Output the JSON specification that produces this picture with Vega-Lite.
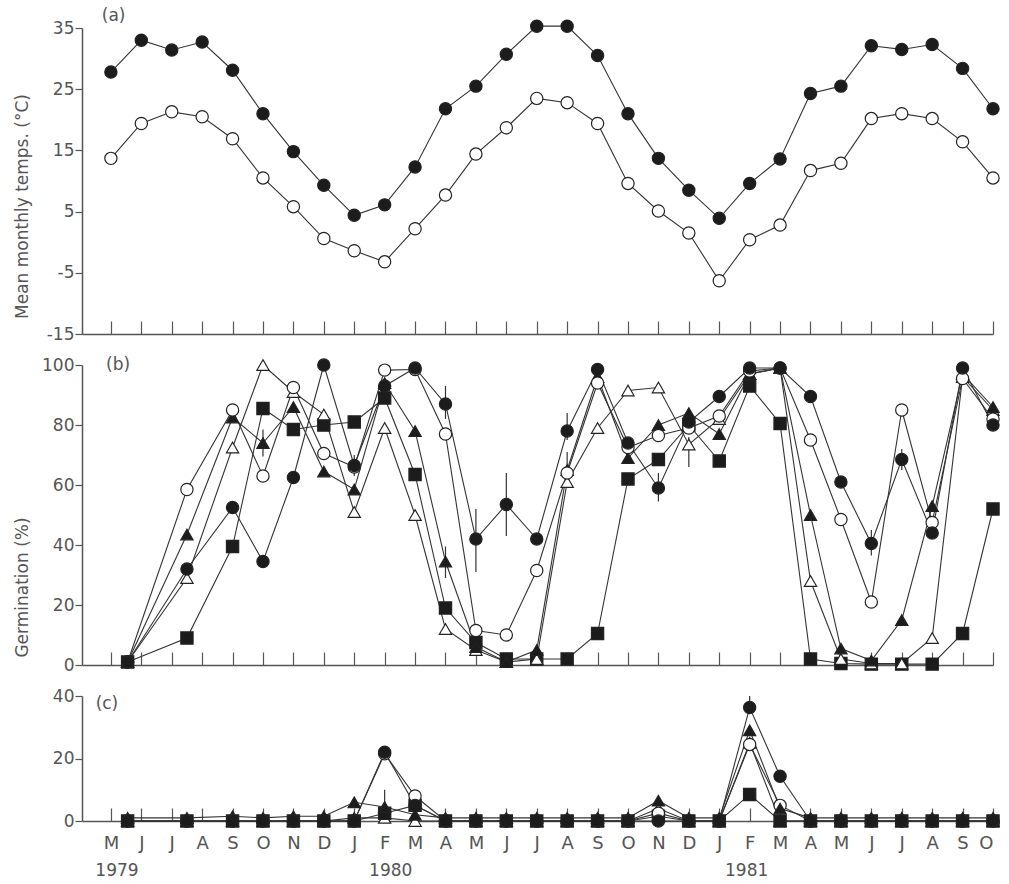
{
  "$schema": "https://vega.github.io/schema/vega-lite/v6.json",
  "padding": {"left": 13, "top": 7, "right": 10, "bottom": 4},
  "bounds": "flush",
  "spacing": 31,
  "config": {
    "view": {"stroke": null},
    "font": "DejaVu Sans",
    "axis": {
      "labelFont": "DejaVu Sans", "titleFont": "DejaVu Sans", "labelColor": "#555", "titleColor": "#555",
      "titleFontWeight": "normal", "labelFontSize": 17, "titleFontSize": 17, "domainColor": "#555",
      "tickColor": "#555", "grid": false, "domainWidth": 1.5, "tickWidth": 1.2
    }
  },
  "datasets": {
    "temp": [
      {"m": 0, "series": "max", "t": 27.8}, {"m": 1, "series": "max", "t": 33.0}, {"m": 2, "series": "max", "t": 31.4}, {"m": 3, "series": "max", "t": 32.7}, {"m": 4, "series": "max", "t": 28.1}, {"m": 5, "series": "max", "t": 21.0}, {"m": 6, "series": "max", "t": 14.8}, {"m": 7, "series": "max", "t": 9.3}, {"m": 8, "series": "max", "t": 4.4}, {"m": 9, "series": "max", "t": 6.1}, {"m": 10, "series": "max", "t": 12.3}, {"m": 11, "series": "max", "t": 21.8}, {"m": 12, "series": "max", "t": 25.5}, {"m": 13, "series": "max", "t": 30.7}, {"m": 14, "series": "max", "t": 35.3}, {"m": 15, "series": "max", "t": 35.3}, {"m": 16, "series": "max", "t": 30.5}, {"m": 17, "series": "max", "t": 21.0}, {"m": 18, "series": "max", "t": 13.7}, {"m": 19, "series": "max", "t": 8.5}, {"m": 20, "series": "max", "t": 3.9}, {"m": 21, "series": "max", "t": 9.6}, {"m": 22, "series": "max", "t": 13.6}, {"m": 23, "series": "max", "t": 24.3}, {"m": 24, "series": "max", "t": 25.5}, {"m": 25, "series": "max", "t": 32.1}, {"m": 26, "series": "max", "t": 31.5}, {"m": 27, "series": "max", "t": 32.3}, {"m": 28, "series": "max", "t": 28.4}, {"m": 29, "series": "max", "t": 21.8},
      {"m": 0, "series": "min", "t": 13.7}, {"m": 1, "series": "min", "t": 19.4}, {"m": 2, "series": "min", "t": 21.3}, {"m": 3, "series": "min", "t": 20.5}, {"m": 4, "series": "min", "t": 16.9}, {"m": 5, "series": "min", "t": 10.5}, {"m": 6, "series": "min", "t": 5.8}, {"m": 7, "series": "min", "t": 0.6}, {"m": 8, "series": "min", "t": -1.4}, {"m": 9, "series": "min", "t": -3.2}, {"m": 10, "series": "min", "t": 2.2}, {"m": 11, "series": "min", "t": 7.7}, {"m": 12, "series": "min", "t": 14.4}, {"m": 13, "series": "min", "t": 18.7}, {"m": 14, "series": "min", "t": 23.5}, {"m": 15, "series": "min", "t": 22.8}, {"m": 16, "series": "min", "t": 19.4}, {"m": 17, "series": "min", "t": 9.6}, {"m": 18, "series": "min", "t": 5.1}, {"m": 19, "series": "min", "t": 1.5}, {"m": 20, "series": "min", "t": -6.3}, {"m": 21, "series": "min", "t": 0.4}, {"m": 22, "series": "min", "t": 2.8}, {"m": 23, "series": "min", "t": 11.7}, {"m": 24, "series": "min", "t": 12.9}, {"m": 25, "series": "min", "t": 20.2}, {"m": 26, "series": "min", "t": 21.0}, {"m": 27, "series": "min", "t": 20.2}, {"m": 28, "series": "min", "t": 16.4}, {"m": 29, "series": "min", "t": 10.5}
    ],
    "germb": [
      {"m": 0.55, "s": "E", "v": 1}, {"m": 2.5, "s": "E", "v": 9}, {"m": 4, "s": "E", "v": 39.5}, {"m": 5, "s": "E", "v": 85.5}, {"m": 6, "s": "E", "v": 78.5}, {"m": 7, "s": "E", "v": 80}, {"m": 8, "s": "E", "v": 81}, {"m": 9, "s": "E", "v": 89}, {"m": 10, "s": "E", "v": 63.5}, {"m": 11, "s": "E", "v": 19}, {"m": 12, "s": "E", "v": 7.5}, {"m": 13, "s": "E", "v": 2}, {"m": 14, "s": "E", "v": 2}, {"m": 15, "s": "E", "v": 2}, {"m": 16, "s": "E", "v": 10.5}, {"m": 17, "s": "E", "v": 62}, {"m": 18, "s": "E", "v": 68.5}, {"m": 19, "s": "E", "v": 80}, {"m": 20, "s": "E", "v": 68}, {"m": 21, "s": "E", "v": 93}, {"m": 22, "s": "E", "v": 80.5}, {"m": 23, "s": "E", "v": 2}, {"m": 24, "s": "E", "v": 0.5}, {"m": 25, "s": "E", "v": 0.3}, {"m": 26, "s": "E", "v": 0.3}, {"m": 27, "s": "E", "v": 0.3}, {"m": 28, "s": "E", "v": 10.5}, {"m": 29, "s": "E", "v": 52},
      {"m": 0.55, "s": "D", "v": 1}, {"m": 2.5, "s": "D", "v": 29}, {"m": 4, "s": "D", "v": 72.5}, {"m": 5, "s": "D", "v": 100}, {"m": 6, "s": "D", "v": 91}, {"m": 7, "s": "D", "v": 83.5}, {"m": 8, "s": "D", "v": 51}, {"m": 9, "s": "D", "v": 79}, {"m": 10, "s": "D", "v": 50}, {"m": 11, "s": "D", "v": 12}, {"m": 12, "s": "D", "v": 5}, {"m": 13, "s": "D", "v": 1}, {"m": 14, "s": "D", "v": 2}, {"m": 15, "s": "D", "v": 61}, {"m": 16, "s": "D", "v": 79}, {"m": 17, "s": "D", "v": 91.5}, {"m": 18, "s": "D", "v": 92.5}, {"m": 19, "s": "D", "v": 73.5}, {"m": 20, "s": "D", "v": 82}, {"m": 21, "s": "D", "v": 97}, {"m": 22, "s": "D", "v": 99}, {"m": 23, "s": "D", "v": 28}, {"m": 24, "s": "D", "v": 2}, {"m": 25, "s": "D", "v": 0.5}, {"m": 26, "s": "D", "v": 0.5}, {"m": 27, "s": "D", "v": 9}, {"m": 28, "s": "D", "v": 96}, {"m": 29, "s": "D", "v": 85},
      {"m": 0.55, "s": "C", "v": 1}, {"m": 2.5, "s": "C", "v": 43.5}, {"m": 4, "s": "C", "v": 82.5}, {"m": 5, "s": "C", "v": 74}, {"m": 6, "s": "C", "v": 86}, {"m": 7, "s": "C", "v": 64.5}, {"m": 8, "s": "C", "v": 58.5}, {"m": 9, "s": "C", "v": 94}, {"m": 10, "s": "C", "v": 78}, {"m": 11, "s": "C", "v": 34.5}, {"m": 12, "s": "C", "v": 6}, {"m": 13, "s": "C", "v": 1}, {"m": 14, "s": "C", "v": 5}, {"m": 15, "s": "C", "v": 65}, {"m": 16, "s": "C", "v": 96}, {"m": 17, "s": "C", "v": 69}, {"m": 18, "s": "C", "v": 80}, {"m": 19, "s": "C", "v": 84}, {"m": 20, "s": "C", "v": 77}, {"m": 21, "s": "C", "v": 97}, {"m": 22, "s": "C", "v": 99}, {"m": 23, "s": "C", "v": 50}, {"m": 24, "s": "C", "v": 5.5}, {"m": 25, "s": "C", "v": 1.5}, {"m": 26, "s": "C", "v": 15}, {"m": 27, "s": "C", "v": 53}, {"m": 28, "s": "C", "v": 97}, {"m": 29, "s": "C", "v": 86},
      {"m": 0.55, "s": "B", "v": 1}, {"m": 2.5, "s": "B", "v": 58.5}, {"m": 4, "s": "B", "v": 85}, {"m": 5, "s": "B", "v": 63}, {"m": 6, "s": "B", "v": 92.5}, {"m": 7, "s": "B", "v": 70.5}, {"m": 8, "s": "B", "v": 66}, {"m": 9, "s": "B", "v": 98.3}, {"m": 10, "s": "B", "v": 98.5}, {"m": 11, "s": "B", "v": 77}, {"m": 12, "s": "B", "v": 11.5}, {"m": 13, "s": "B", "v": 10}, {"m": 14, "s": "B", "v": 31.5}, {"m": 15, "s": "B", "v": 64}, {"m": 16, "s": "B", "v": 94}, {"m": 17, "s": "B", "v": 72.5}, {"m": 18, "s": "B", "v": 76.5}, {"m": 19, "s": "B", "v": 79}, {"m": 20, "s": "B", "v": 83}, {"m": 21, "s": "B", "v": 98}, {"m": 22, "s": "B", "v": 99}, {"m": 23, "s": "B", "v": 75}, {"m": 24, "s": "B", "v": 48.5}, {"m": 25, "s": "B", "v": 21}, {"m": 26, "s": "B", "v": 85}, {"m": 27, "s": "B", "v": 47.5}, {"m": 28, "s": "B", "v": 95.5}, {"m": 29, "s": "B", "v": 82},
      {"m": 0.55, "s": "A", "v": 1}, {"m": 2.5, "s": "A", "v": 32}, {"m": 4, "s": "A", "v": 52.5}, {"m": 5, "s": "A", "v": 34.5}, {"m": 6, "s": "A", "v": 62.5}, {"m": 7, "s": "A", "v": 100}, {"m": 8, "s": "A", "v": 66.5}, {"m": 9, "s": "A", "v": 93}, {"m": 10, "s": "A", "v": 99}, {"m": 11, "s": "A", "v": 87}, {"m": 12, "s": "A", "v": 42}, {"m": 13, "s": "A", "v": 53.5}, {"m": 14, "s": "A", "v": 42}, {"m": 15, "s": "A", "v": 78}, {"m": 16, "s": "A", "v": 98.5}, {"m": 17, "s": "A", "v": 74}, {"m": 18, "s": "A", "v": 59}, {"m": 19, "s": "A", "v": 81}, {"m": 20, "s": "A", "v": 89.5}, {"m": 21, "s": "A", "v": 99}, {"m": 22, "s": "A", "v": 99}, {"m": 23, "s": "A", "v": 89.5}, {"m": 24, "s": "A", "v": 61}, {"m": 25, "s": "A", "v": 40.5}, {"m": 26, "s": "A", "v": 68.5}, {"m": 27, "s": "A", "v": 44}, {"m": 28, "s": "A", "v": 99}, {"m": 29, "s": "A", "v": 80}
    ],
    "germc": [
      {"m": 0.55, "s": "D", "v": 0}, {"m": 2.5, "s": "D", "v": 0}, {"m": 4, "s": "D", "v": 0}, {"m": 5, "s": "D", "v": 0}, {"m": 6, "s": "D", "v": 0}, {"m": 7, "s": "D", "v": 0}, {"m": 8, "s": "D", "v": 1}, {"m": 9, "s": "D", "v": 1}, {"m": 10, "s": "D", "v": 0}, {"m": 11, "s": "D", "v": 0}, {"m": 12, "s": "D", "v": 0}, {"m": 13, "s": "D", "v": 0}, {"m": 14, "s": "D", "v": 0}, {"m": 15, "s": "D", "v": 0}, {"m": 16, "s": "D", "v": 0}, {"m": 17, "s": "D", "v": 0}, {"m": 18, "s": "D", "v": 4}, {"m": 19, "s": "D", "v": 0}, {"m": 20, "s": "D", "v": 0}, {"m": 21, "s": "D", "v": 25}, {"m": 22, "s": "D", "v": 0}, {"m": 23, "s": "D", "v": 0}, {"m": 24, "s": "D", "v": 0}, {"m": 25, "s": "D", "v": 0}, {"m": 26, "s": "D", "v": 0}, {"m": 27, "s": "D", "v": 0}, {"m": 28, "s": "D", "v": 0}, {"m": 29, "s": "D", "v": 0},
      {"m": 0.55, "s": "E", "v": 0}, {"m": 2.5, "s": "E", "v": 0}, {"m": 4, "s": "E", "v": 0}, {"m": 5, "s": "E", "v": 0}, {"m": 6, "s": "E", "v": 0}, {"m": 7, "s": "E", "v": 0}, {"m": 8, "s": "E", "v": 0}, {"m": 9, "s": "E", "v": 2.5}, {"m": 10, "s": "E", "v": 5}, {"m": 11, "s": "E", "v": 0}, {"m": 12, "s": "E", "v": 0}, {"m": 13, "s": "E", "v": 0}, {"m": 14, "s": "E", "v": 0}, {"m": 15, "s": "E", "v": 0}, {"m": 16, "s": "E", "v": 0}, {"m": 17, "s": "E", "v": 0}, {"m": 18, "s": "E", "v": 1.5}, {"m": 19, "s": "E", "v": 0}, {"m": 20, "s": "E", "v": 0}, {"m": 21, "s": "E", "v": 8.5}, {"m": 22, "s": "E", "v": 0}, {"m": 23, "s": "E", "v": 0}, {"m": 24, "s": "E", "v": 0}, {"m": 25, "s": "E", "v": 0}, {"m": 26, "s": "E", "v": 0}, {"m": 27, "s": "E", "v": 0}, {"m": 28, "s": "E", "v": 0}, {"m": 29, "s": "E", "v": 0},
      {"m": 0.55, "s": "B", "v": 0}, {"m": 2.5, "s": "B", "v": 0}, {"m": 4, "s": "B", "v": 0}, {"m": 5, "s": "B", "v": 0}, {"m": 6, "s": "B", "v": 0}, {"m": 7, "s": "B", "v": 0}, {"m": 8, "s": "B", "v": 0}, {"m": 9, "s": "B", "v": 21.5}, {"m": 10, "s": "B", "v": 8}, {"m": 11, "s": "B", "v": 0}, {"m": 12, "s": "B", "v": 0}, {"m": 13, "s": "B", "v": 0}, {"m": 14, "s": "B", "v": 0}, {"m": 15, "s": "B", "v": 0}, {"m": 16, "s": "B", "v": 0}, {"m": 17, "s": "B", "v": 0}, {"m": 18, "s": "B", "v": 2.5}, {"m": 19, "s": "B", "v": 0}, {"m": 20, "s": "B", "v": 0}, {"m": 21, "s": "B", "v": 24.5}, {"m": 22, "s": "B", "v": 5}, {"m": 23, "s": "B", "v": 0}, {"m": 24, "s": "B", "v": 0}, {"m": 25, "s": "B", "v": 0}, {"m": 26, "s": "B", "v": 0}, {"m": 27, "s": "B", "v": 0}, {"m": 28, "s": "B", "v": 0}, {"m": 29, "s": "B", "v": 0},
      {"m": 0.55, "s": "C", "v": 1}, {"m": 2.5, "s": "C", "v": 1}, {"m": 4, "s": "C", "v": 1.5}, {"m": 5, "s": "C", "v": 1}, {"m": 6, "s": "C", "v": 1.5}, {"m": 7, "s": "C", "v": 1.5}, {"m": 8, "s": "C", "v": 6}, {"m": 9, "s": "C", "v": 4.5}, {"m": 10, "s": "C", "v": 2}, {"m": 11, "s": "C", "v": 1}, {"m": 12, "s": "C", "v": 1}, {"m": 13, "s": "C", "v": 1}, {"m": 14, "s": "C", "v": 1}, {"m": 15, "s": "C", "v": 1}, {"m": 16, "s": "C", "v": 1}, {"m": 17, "s": "C", "v": 1}, {"m": 18, "s": "C", "v": 6.5}, {"m": 19, "s": "C", "v": 1}, {"m": 20, "s": "C", "v": 1}, {"m": 21, "s": "C", "v": 29}, {"m": 22, "s": "C", "v": 4}, {"m": 23, "s": "C", "v": 1}, {"m": 24, "s": "C", "v": 1}, {"m": 25, "s": "C", "v": 1}, {"m": 26, "s": "C", "v": 1}, {"m": 27, "s": "C", "v": 1}, {"m": 28, "s": "C", "v": 1}, {"m": 29, "s": "C", "v": 1},
      {"m": 0.55, "s": "A", "v": 0}, {"m": 2.5, "s": "A", "v": 0}, {"m": 4, "s": "A", "v": 0}, {"m": 5, "s": "A", "v": 0}, {"m": 6, "s": "A", "v": 0}, {"m": 7, "s": "A", "v": 0}, {"m": 8, "s": "A", "v": 0}, {"m": 9, "s": "A", "v": 22}, {"m": 10, "s": "A", "v": 5}, {"m": 11, "s": "A", "v": 0}, {"m": 12, "s": "A", "v": 0}, {"m": 13, "s": "A", "v": 0}, {"m": 14, "s": "A", "v": 0}, {"m": 15, "s": "A", "v": 0}, {"m": 16, "s": "A", "v": 0}, {"m": 17, "s": "A", "v": 0}, {"m": 18, "s": "A", "v": 0}, {"m": 19, "s": "A", "v": 0}, {"m": 20, "s": "A", "v": 0}, {"m": 21, "s": "A", "v": 36.3}, {"m": 22, "s": "A", "v": 14.3}, {"m": 23, "s": "A", "v": 0}, {"m": 24, "s": "A", "v": 0}, {"m": 25, "s": "A", "v": 0}, {"m": 26, "s": "A", "v": 0}, {"m": 27, "s": "A", "v": 0}, {"m": 28, "s": "A", "v": 0}, {"m": 29, "s": "A", "v": 0}
    ],
    "errb": [
      {"m": 5, "lo": 69.5, "hi": 78.5}, {"m": 8, "lo": 63, "hi": 70}, {"m": 11, "lo": 82, "hi": 93}, {"m": 11, "lo": 29, "hi": 39.5},
      {"m": 12, "lo": 31, "hi": 52}, {"m": 13, "lo": 43, "hi": 64}, {"m": 15, "lo": 75, "hi": 84}, {"m": 15, "lo": 59.5, "hi": 71},
      {"m": 18, "lo": 54.5, "hi": 64}, {"m": 19, "lo": 66, "hi": 76}, {"m": 25, "lo": 36.5, "hi": 45}, {"m": 26, "lo": 65, "hi": 72}
    ],
    "errc": [
      {"m": 9, "lo": 2.5, "hi": 10}, {"m": 21, "lo": 36.3, "hi": 40}
    ]
  },
  "vconcat": [
    {
      "width": 911, "height": 306,
      "data": {"name": "temp"},
      "encoding": {
        "x": {"field": "m", "type": "quantitative", "scale": {"domain": [-0.95, 29], "nice": false, "zero": false},
              "axis": {"values": [0,1,2,3,4,5,6,7,8,9,10,11,12,13,14,15,16,17,18,19,20,21,22,23,24,25,26,27,28,29], "tickSize": -13, "labels": false, "title": null}}
      },
      "layer": [
        {"mark": {"type": "line", "color": "#333", "strokeWidth": 1.1},
         "encoding": {
           "y": {"field": "t", "type": "quantitative", "scale": {"domain": [-15, 35], "nice": false, "zero": false},
                 "axis": {"values": [-15,-10,-5,0,5,10,15,20,25,30,35], "labelExpr": "abs(datum.value % 10) == 5 ? '' + datum.value : ''",
                          "tickSize": 7, "labelPadding": 1, "title": "Mean monthly temps. (°C)", "titleX": -60, "titleY": 178,
                          "titleAlign": "center", "titleBaseline": "middle", "titleAngle": -90}},
           "detail": {"field": "series"}}},
        {"mark": {"type": "point", "shape": "circle", "filled": true, "size": 150, "strokeWidth": 1.2, "opacity": 1, "stroke": "#222"},
         "encoding": {
           "y": {"field": "t", "type": "quantitative"},
           "fill": {"field": "series", "type": "nominal", "scale": {"domain": ["max", "min"], "range": ["#1c1c1c", "#ffffff"]}, "legend": null}}},
        {"data": {"values": [{"m": -0.3, "t": 36.96, "lab": "(a)"}]},
         "mark": {"type": "text", "align": "left", "baseline": "middle", "fontSize": 17, "color": "#555", "font": "DejaVu Sans"},
         "encoding": {"y": {"field": "t", "type": "quantitative"}, "text": {"field": "lab"}}}
      ]
    },
    {
      "width": 911, "height": 300,
      "encoding": {
        "x": {"field": "m", "type": "quantitative", "scale": {"domain": [-0.95, 29], "nice": false, "zero": false},
              "axis": {"values": [0,1,2,3,4,5,6,7,8,9,10,11,12,13,14,15,16,17,18,19,20,21,22,23,24,25,26,27,28,29], "tickSize": -13, "labels": false, "title": null}}
      },
      "layer": [
        {"data": {"name": "errb"},
         "mark": {"type": "rule", "color": "#333", "strokeWidth": 1.2},
         "encoding": {
           "y": {"field": "lo", "type": "quantitative", "scale": {"domain": [0, 100], "nice": false},
                 "axis": {"values": [0,10,20,30,40,50,60,70,80,90,100], "labelExpr": "datum.value % 20 == 0 ? '' + datum.value : ''",
                          "tickSize": 7, "labelPadding": 1, "title": "Germination (%)", "titleX": -60, "titleY": 222,
                          "titleAlign": "center", "titleBaseline": "middle", "titleAngle": -90}},
           "y2": {"field": "hi"}}},
        {"data": {"name": "germb"},
         "mark": {"type": "line", "color": "#333", "strokeWidth": 1.1},
         "encoding": {"y": {"field": "v", "type": "quantitative"}, "detail": {"field": "s"}}},
        {"data": {"name": "germb"},
         "mark": {"type": "point", "filled": true, "size": 150, "strokeWidth": 1.2, "opacity": 1, "stroke": "#222"},
         "encoding": {
           "y": {"field": "v", "type": "quantitative"},
           "shape": {"field": "s", "type": "nominal", "scale": {"domain": ["A", "B", "C", "D", "E"], "range": ["circle", "circle", "triangle-up", "triangle-up", "square"]}, "legend": null},
           "fill": {"field": "s", "type": "nominal", "scale": {"domain": ["A", "B", "C", "D", "E"], "range": ["#1c1c1c", "#ffffff", "#1c1c1c", "#ffffff", "#1c1c1c"]}, "legend": null}}},
        {"data": {"values": [{"m": -0.16, "v": 100, "lab": "(b)"}]},
         "mark": {"type": "text", "align": "left", "baseline": "middle", "fontSize": 17, "color": "#555", "font": "DejaVu Sans"},
         "encoding": {"y": {"field": "v", "type": "quantitative"}, "text": {"field": "lab"}}}
      ]
    },
    {
      "width": 911, "height": 125,
      "encoding": {
        "x": {"field": "m", "type": "quantitative", "scale": {"domain": [-0.95, 29], "nice": false, "zero": false},
              "axis": {"values": [0,1,2,3,4,5,6,7,8,9,10,11,12,13,14,15,16,17,18,19,20,21,22,23,24,25,26,27,28,29], "tickSize": -13,
                       "labelExpr": "['M','J','J','A','S','O','N','D','J','F','M','A'][datum.value % 12]",
                       "labelPadding": 26, "labelFontSize": 18, "title": null}}
      },
      "layer": [
        {"data": {"name": "errc"},
         "mark": {"type": "rule", "color": "#333", "strokeWidth": 1.2},
         "encoding": {
           "y": {"field": "lo", "type": "quantitative", "scale": {"domain": [0, 40], "nice": false},
                 "axis": {"values": [0,10,20,30,40], "labelExpr": "datum.value % 20 == 0 ? '' + datum.value : ''",
                          "tickSize": 7, "labelPadding": 1, "title": null}},
           "y2": {"field": "hi"}}},
        {"data": {"name": "germc"},
         "mark": {"type": "line", "color": "#333", "strokeWidth": 1.1},
         "encoding": {"y": {"field": "v", "type": "quantitative"}, "detail": {"field": "s"}}},
        {"data": {"name": "germc"},
         "mark": {"type": "point", "filled": true, "size": 150, "strokeWidth": 1.2, "opacity": 1, "stroke": "#222"},
         "encoding": {
           "y": {"field": "v", "type": "quantitative"},
           "shape": {"field": "s", "type": "nominal", "scale": {"domain": ["A", "B", "C", "D", "E"], "range": ["circle", "circle", "triangle-up", "triangle-up", "square"]}, "legend": null},
           "fill": {"field": "s", "type": "nominal", "scale": {"domain": ["A", "B", "C", "D", "E"], "range": ["#1c1c1c", "#ffffff", "#1c1c1c", "#ffffff", "#1c1c1c"]}, "legend": null}}},
        {"data": {"values": [{"m": -0.13, "v": 37.4, "lab": "(c)"}, {"m": 0.2, "v": -16, "lab": "1979"}, {"m": 9.2, "v": -16, "lab": "1980"}, {"m": 20.9, "v": -16, "lab": "1981"}]},
         "mark": {"type": "text", "baseline": "middle", "fontSize": 17, "color": "#555", "font": "DejaVu Sans"},
         "encoding": {"y": {"field": "v", "type": "quantitative"}, "text": {"field": "lab"},
                      "align": {"condition": {"test": "datum.lab == '(c)'", "value": "left"}, "value": "center"}}}
      ]
    }
  ]
}
